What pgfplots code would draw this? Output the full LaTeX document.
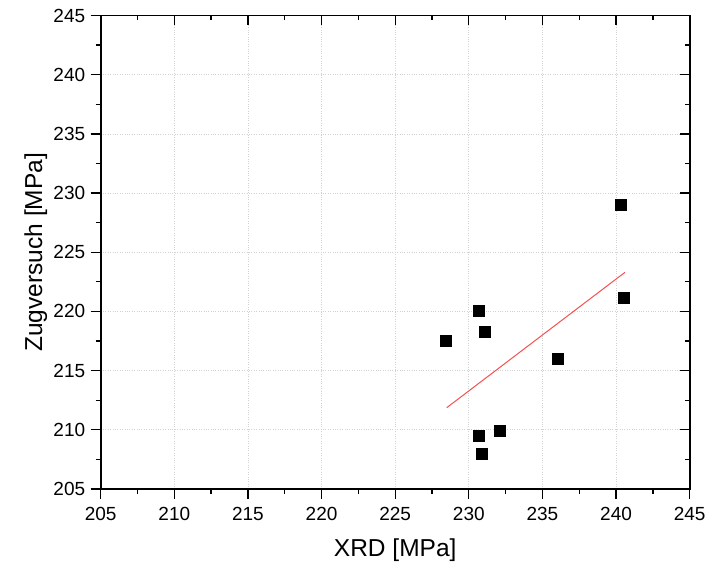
\documentclass[border=0pt]{standalone}
\usepackage{pgfplots}
\pgfplotsset{compat=1.18}
\usepackage{fontspec}
\setmainfont{Liberation Sans}
\begin{document}
\begin{tikzpicture}
\path[use as bounding box] (0,0) rectangle (721bp,564bp);
\pgfplotsset{
  common/.style={
    at={(100.7bp,75bp)}, anchor=south west,
    scale only axis, width=589bp, height=473.5bp,
    xmin=205, xmax=245, ymin=205, ymax=245,
    xtick={205,210,...,245}, ytick={205,210,...,245},
    minor x tick num=1, minor y tick num=1,
    axis line style={line width=1.6bp, black},
    major tick length=10bp, minor tick length=5bp,
    every tick/.style={black, line width=1.3bp},
    /pgf/number format/assume math mode=true,
    /pgf/number format/1000 sep={},
  }
}
\begin{axis}[common,
  xtick pos=left, ytick pos=left, tick align=outside,
  grid=major, major grid style={dotted, gray!35, line width=0.7bp},
  ticklabel style={font=\fontsize{19bp}{22bp}\selectfont, black},
  xticklabel style={yshift=-5bp},
  yticklabel style={xshift=-2bp},
  xlabel={XRD [MPa]}, ylabel={Zugversuch [MPa]},
  label style={font=\fontsize{24.5bp}{28bp}\selectfont},
  xlabel style={at={(axis description cs:0.5,0)}, anchor=north, yshift=-46bp},
  ylabel style={at={(axis description cs:0,0.5)}, anchor=south, yshift=50bp},
]
\addplot[only marks, mark=square*, mark size=5.5bp, black] coordinates {
  (240.3,229.0) (240.5,221.2) (230.7,220.05) (231.1,218.25) (228.45,217.5)
  (236.05,216.0) (232.1,209.9) (230.7,209.5) (230.85,208.0)
};
\addplot[color={rgb,255:red,245;green,80;blue,80}, line width=1bp] coordinates {
  (228.5,211.87) (240.6,223.3)
};
\end{axis}
\begin{axis}[common,
  xtick pos=right, ytick pos=right, tick align=inside,
  xticklabels={}, yticklabels={},
]
\end{axis}
\end{tikzpicture}
\end{document}
